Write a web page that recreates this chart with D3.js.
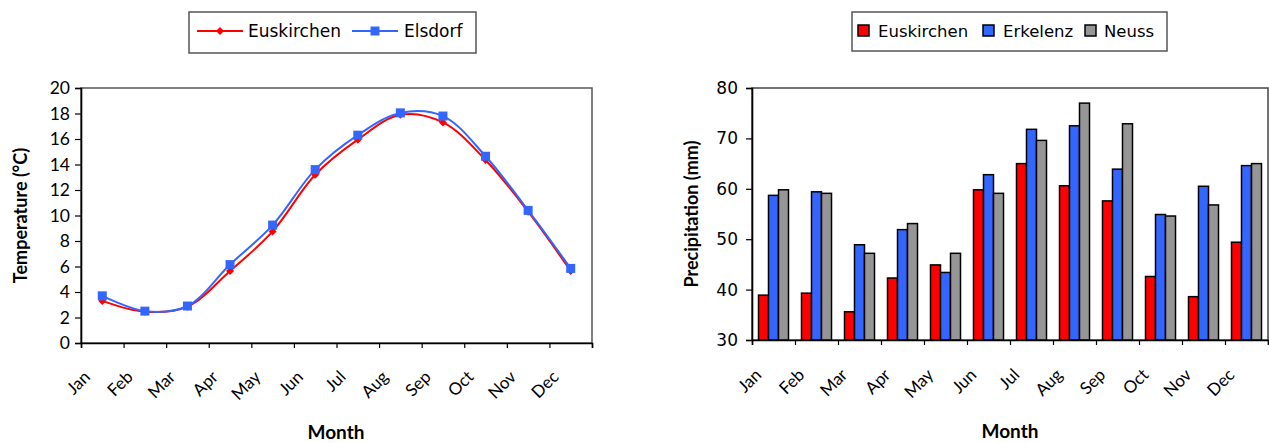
<!DOCTYPE html>
<html>
<head>
<meta charset="utf-8">
<script src="https://cdn.jsdelivr.net/npm/d3@7"></script>
<style>
  body { margin: 0; background: #fff; }
  svg { display: block; }
</style>
</head>
<body>
<svg id="chart" width="1269" height="443"></svg>
<script>
// ---- data ----
const months = ["Jan", "Feb", "Mar", "Apr", "May", "Jun", "Jul", "Aug", "Sep", "Oct", "Nov", "Dec"];

const tempSeries = ["Euskirchen", "Elsdorf"];
const tempEuskirchen = [3.3, 2.45, 2.85, 5.65, 8.75, 13.2, 15.95, 17.9, 17.3, 14.35, 10.3, 5.65];
const tempElsdorf = [3.7, 2.5, 2.9, 6.15, 9.25, 13.6, 16.3, 18.05, 17.8, 14.65, 10.4, 5.85];
const tempTicks = [0, 2, 4, 6, 8, 10, 12, 14, 16, 18, 20];

const precipSeries = ["Euskirchen", "Erkelenz", "Neuss"];
const precipEuskirchen = [38.9, 39.3, 35.6, 42.3, 44.9, 59.8, 65.0, 60.6, 57.6, 42.6, 38.6, 49.4];
const precipErkelenz = [58.7, 59.4, 48.9, 51.9, 43.4, 62.8, 71.8, 72.5, 63.9, 54.9, 60.5, 64.6];
const precipNeuss = [59.8, 59.1, 47.2, 53.1, 47.2, 59.1, 69.6, 77.0, 72.9, 54.6, 56.8, 65.0];
const precipTicks = [30, 40, 50, 60, 70, 80];

const tempColors = { "Euskirchen": "#ff0000", "Elsdorf": "#3366ff" };
const precipColors = { "Euskirchen": "#ff0000", "Erkelenz": "#3366ff", "Neuss": "#969696" };

const tickFont = "Lato, 'Open Sans', sans-serif";
const legendFont = "'DejaVu Sans', Verdana, sans-serif";

const svg = d3.select("#chart");

function diamondPath(r) {
    return "M0," + (-r) + "L" + r + ",0L0," + r + "L" + (-r) + ",0Z";
}

function drawMonthAxis(g, x, height, labelY) {
    // tick marks on the category boundaries
    const bounds = d3.scaleLinear().domain([0, months.length]).range(x.range());
    g.append("g")
        .attr("transform", "translate(0," + height + ")")
        .call(d3.axisBottom(bounds).tickValues(d3.range(months.length + 1)).tickSize(5).tickFormat(""))
        .call(a => a.select(".domain").attr("stroke", "#000").attr("stroke-width", 1.6))
        .call(a => a.selectAll(".tick line").attr("stroke", "#000").attr("stroke-width", 1.2));

    g.append("g").selectAll("text")
        .data(months)
        .join("text")
        .attr("transform", d => "translate(" + (x(d) + x.bandwidth() / 2 - 11) + "," + labelY + ")rotate(-45)")
        .attr("text-anchor", "end")
        .attr("font-family", tickFont)
        .attr("font-size", 17)
        .attr("fill", "#000")
        .text(d => d);
}

//////// Temperature chart ////////
{
    const left = 81, right = 592, top = 88, bottom = 343;
    const g = svg.append("g").attr("transform", "translate(" + left + "," + top + ")");
    const w = right - left, h = bottom - top;

    const x = d3.scaleBand().domain(months).range([0, w]);
    const y = d3.scaleLinear().domain([0, 20]).range([h, 0]);

    g.append("rect").attr("width", w).attr("height", h)
        .attr("fill", "none").attr("stroke", "#555").attr("stroke-width", 1.5);

    g.append("g")
        .call(d3.axisLeft(y).tickValues(tempTicks).tickSize(6).tickPadding(5))
        .call(a => a.select(".domain").attr("stroke", "#000").attr("stroke-width", 1.6))
        .call(a => a.selectAll(".tick line").attr("stroke", "#000").attr("stroke-width", 1.2))
        .call(a => a.selectAll("text").attr("font-family", tickFont).attr("font-size", 17.5).attr("fill", "#000"));

    drawMonthAxis(g, x, h, 378 - top);

    const line = d3.line()
        .x((d, i) => x(months[i]) + x.bandwidth() / 2)
        .y(d => y(d))
        .curve(d3.curveCatmullRom.alpha(0.5));

    const series = [
        { name: "Euskirchen", values: tempEuskirchen },
        { name: "Elsdorf", values: tempElsdorf }
    ];
    series.forEach(s => {
        g.append("path").datum(s.values)
            .attr("d", line)
            .attr("fill", "none")
            .attr("stroke", tempColors[s.name])
            .attr("stroke-width", 2);
        const pts = g.append("g").selectAll("path.m")
            .data(s.values)
            .join("path")
            .attr("class", "m")
            .attr("transform", (d, i) => "translate(" + (x(months[i]) + x.bandwidth() / 2) + "," + y(d) + ")")
            .attr("fill", tempColors[s.name]);
        if (s.name == "Euskirchen") pts.attr("d", diamondPath(4));
        else pts.attr("d", "M-4.5,-4.5h9v9h-9Z");
    });

    g.append("text")
        .attr("transform", "translate(" + (20 - left) + "," + (h / 2) + ")rotate(-90)")
        .attr("text-anchor", "middle")
        .attr("dominant-baseline", "central")
        .attr("font-family", tickFont)
        .attr("font-weight", "bold")
        .attr("font-size", 18)
        .text("Temperature (°C)");

    g.append("text")
        .attr("x", 336 - left).attr("y", 439 - top)
        .attr("text-anchor", "middle")
        .attr("font-family", tickFont)
        .attr("font-weight", "bold")
        .attr("font-size", 19)
        .text("Month");

    // legend
    const lg = svg.append("g").attr("transform", "translate(189,12)");
    lg.append("rect").attr("width", 287).attr("height", 41)
        .attr("fill", "#fff").attr("stroke", "#555").attr("stroke-width", 1.5);
    const items = [
        { name: "Euskirchen", x0: 8, tx: 59 },
        { name: "Elsdorf", x0: 163, tx: 215 }
    ];
    items.forEach(it => {
        lg.append("line").attr("x1", it.x0).attr("x2", it.x0 + 46).attr("y1", 19).attr("y2", 19)
            .attr("stroke", tempColors[it.name]).attr("stroke-width", 2);
        lg.append("path")
            .attr("transform", "translate(" + (it.x0 + 23) + ",19)")
            .attr("d", it.name == "Euskirchen" ? diamondPath(4) : "M-4.5,-4.5h9v9h-9Z")
            .attr("fill", tempColors[it.name]);
        lg.append("text").attr("x", it.tx).attr("y", 25)
            .attr("font-family", legendFont).attr("font-size", 17)
            .text(it.name);
    });
}

//////// Precipitation chart ////////
{
    const left = 752, right = 1268, top = 88, bottom = 340;
    const g = svg.append("g").attr("transform", "translate(" + left + "," + top + ")");
    const w = right - left, h = bottom - top;

    const x0 = d3.scaleBand().domain(months).range([0, w]);
    const x1 = d3.scaleBand().domain(precipSeries).range([0, x0.bandwidth()]).paddingOuter(0.65);
    const y = d3.scaleLinear().domain([30, 80]).range([h, 0]);

    g.append("rect").attr("width", w).attr("height", h)
        .attr("fill", "none").attr("stroke", "#444").attr("stroke-width", 1.5);

    g.append("g")
        .call(d3.axisLeft(y).tickValues(precipTicks).tickSize(6).tickPadding(8))
        .call(a => a.select(".domain").attr("stroke", "#000").attr("stroke-width", 1.6))
        .call(a => a.selectAll(".tick line").attr("stroke", "#000").attr("stroke-width", 1.2))
        .call(a => a.selectAll("text").attr("font-family", legendFont).attr("font-size", 17).attr("fill", "#000"));

    const valuesBySeries = {
        "Euskirchen": precipEuskirchen,
        "Erkelenz": precipErkelenz,
        "Neuss": precipNeuss
    };
    const rows = months.map((m, i) => precipSeries.map(s => ({ month: m, series: s, value: valuesBySeries[s][i] })));

    g.append("g").selectAll("g")
        .data(rows)
        .join("g")
        .attr("transform", d => "translate(" + x0(d[0].month) + ",0)")
        .selectAll("rect")
        .data(d => d)
        .join("rect")
        .attr("x", d => x1(d.series))
        .attr("width", x1.bandwidth())
        .attr("y", d => y(d.value))
        .attr("height", d => h - y(d.value))
        .attr("fill", d => precipColors[d.series])
        .attr("stroke", "#000")
        .attr("stroke-width", 1.5);

    drawMonthAxis(g, x0, h, 376 - top);

    g.append("text")
        .attr("transform", "translate(" + (691 - left) + "," + (h / 2) + ")rotate(-90)")
        .attr("text-anchor", "middle")
        .attr("dominant-baseline", "central")
        .attr("font-family", tickFont)
        .attr("font-weight", "bold")
        .attr("font-size", 18)
        .text("Precipitation (mm)");

    g.append("text")
        .attr("x", 1010 - left).attr("y", 438 - top)
        .attr("text-anchor", "middle")
        .attr("font-family", tickFont)
        .attr("font-weight", "bold")
        .attr("font-size", 19)
        .text("Month");

    // legend
    const lg = svg.append("g").attr("transform", "translate(852,12)");
    lg.append("rect").attr("width", 315).attr("height", 39)
        .attr("fill", "#fff").attr("stroke", "#555").attr("stroke-width", 1.5);
    const items = [
        { name: "Euskirchen", sx: 6, tx: 26 },
        { name: "Erkelenz", sx: 131, tx: 151 },
        { name: "Neuss", sx: 233, tx: 252 }
    ];
    items.forEach(it => {
        lg.append("rect").attr("x", it.sx).attr("y", 13).attr("width", 11).attr("height", 11)
            .attr("fill", precipColors[it.name]).attr("stroke", "#000").attr("stroke-width", 1.5);
        lg.append("text").attr("x", it.tx).attr("y", 25)
            .attr("font-family", legendFont).attr("font-size", 16.5)
            .text(it.name);
    });
}
</script>
</body>
</html>
